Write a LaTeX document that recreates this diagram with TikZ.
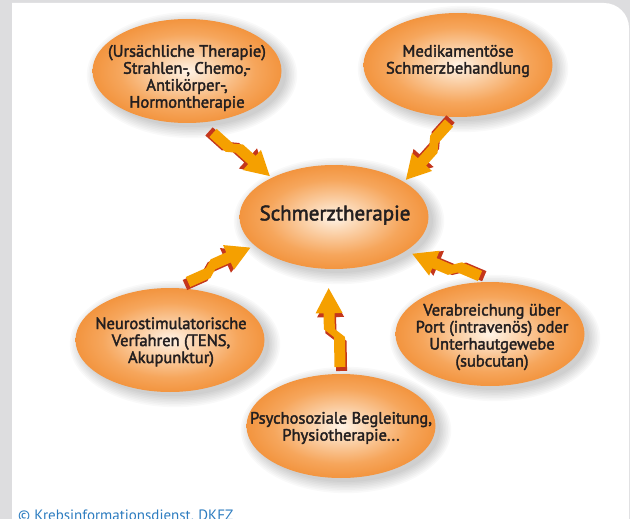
\documentclass[tikz,border=0pt]{standalone}
\usepackage{fontspec}
\setmainfont{PT Sans}
\newfontfamily\lblfont{PT Sans}[FakeBold=2.2]
\usetikzlibrary{shapes.geometric}
\pgfdeclarelayer{card}
\pgfdeclarelayer{shadow}
\pgfsetlayers{card,shadow,main}
\definecolor{bggray}{HTML}{DDDDDF}
\definecolor{ec0}{HTML}{FFF3E6}
\definecolor{ec1}{HTML}{FCDDBE}
\definecolor{ec2}{HTML}{F6A65C}
\definecolor{ec3}{HTML}{EF8322}
\definecolor{ec4}{HTML}{E8740A}
\definecolor{zigor}{HTML}{F5A000}
\definecolor{zigred}{HTML}{C4361C}
\definecolor{txt}{HTML}{231F20}
\definecolor{copyblue}{HTML}{2C7CC0}
\pgfdeclareradialshading{ellshade}{\pgfpoint{0bp}{0bp}}{color(0bp)=(ec0); color(5bp)=(ec1); color(18bp)=(ec2); color(32bp)=(ec3); color(50bp)=(ec4)}
\newcommand\zigpath[4]{(0pt,-5.5pt) -- ({#1*1pt},-5.5pt) -- ({(#1+8)*1pt},{(#3-5.5)*1pt}) -- ({(#1+8+#2)*1pt},{(#3-5.5)*1pt}) -- ({(#1+8+#2)*1pt},{(#3-13.5)*1pt}) -- ({(#1+8+#2+#4)*1pt},{#3*1pt}) -- ({(#1+8+#2)*1pt},{(#3+13.5)*1pt}) -- ({(#1+8+#2)*1pt},{(#3+5.5)*1pt}) -- ({(#1+8)*1pt},{(#3+5.5)*1pt}) -- ({#1*1pt},5.5pt) -- (0pt,5.5pt) -- cycle}
\newcommand\zigarrow[6]{%
  \begin{scope}[shift={(#1)}, rotate=#2]
    \fill[zigred, xshift=-4pt, yshift=-1.5pt] \zigpath{#3}{#4}{#5}{#6};
    \fill[zigor] \zigpath{#3}{#4}{#5}{#6};
  \end{scope}}
\tikzset{
  ell/.style={ellipse, minimum width=189pt, minimum height=104pt, inner sep=0pt, shading=ellshade},
  lbl/.style={align=center, text=txt, inner sep=0pt, font=\lblfont\fontsize{16.5}{17}\selectfont},
  shad/.style={black, opacity=0.025}
}
\begin{document}
\begin{tikzpicture}[x=1pt, y=-1pt]
\useasboundingbox (0,0) rectangle (630,519);
\begin{pgfonlayer}{card}
\fill[bggray] (0,0) rectangle (630,519);
\fill[white] (12,525) -- (12,3) -- (604,3) arc[start angle=90, end angle=0, radius=25pt] -- (629,525) -- cycle;
\end{pgfonlayer}

\node[ell] (e1) at (187,71) {};
\node[ell] (e2) at (458,65) {};
\node[ell] (e3) at (334,217) {};
\node[ell] (e4) at (170,340) {};
\node[ell] (e5) at (490,334) {};
\node[ell] (e6) at (341,426) {};

\begin{pgfonlayer}{shadow}
\foreach \e in {e1,e2,e3,e4,e5,e6}{
  \foreach \k in {0,...,7}{
    \fill[shad] ([shift={(5pt,-4pt)}]\e.center) ellipse [x radius={(94+1.6*\k)*1pt}, y radius={(52+1.6*\k)*1pt}];
  }
}
\end{pgfonlayer}

\node[lbl] (t1) at (187,78) {(Ursächliche Therapie)\\Strahlen-, Chemo,-\\Antikörper-,\\Hormontherapie};
\node[lbl] (t2) at (458,61) {Medikamentöse\\Schmerzbehandlung};
\node[lbl, font=\lblfont\fontsize{21}{24}\selectfont] (t3) at (335,215) {Schmerztherapie};
\node[lbl] (t4) at (171,342) {Neurostimulatorische\\Verfahren (TENS,\\Akupunktur)};
\node[lbl] (t5) at (492,337) {Verabreichung über\\Port (intravenös) oder\\Unterhautgewebe\\(subcutan)};
\node[lbl] (t6) at (341,428) {Psychosoziale Begleitung,\\Physiotherapie...};

\coordinate (a1) at (213,133);
\coordinate (a2) at (449,123);
\coordinate (a3) at (188,282);
\coordinate (a4) at (480,276);
\coordinate (a5) at (340,367);
\zigarrow{a1}{-42}{22}{17}{6}{24}
\zigarrow{a2}{-132}{22}{17}{6}{24}
\zigarrow{a3}{24}{22}{17}{6}{24}
\zigarrow{a4}{157}{22}{17}{6}{24}
\zigarrow{a5}{91}{30}{16}{10}{25}

\node[anchor=base west, inner sep=0pt, text=copyblue, font=\fontsize{15}{18}\selectfont] (copy) at (18,520) {© Krebsinformationsdienst, DKFZ};
\end{tikzpicture}
\end{document}
